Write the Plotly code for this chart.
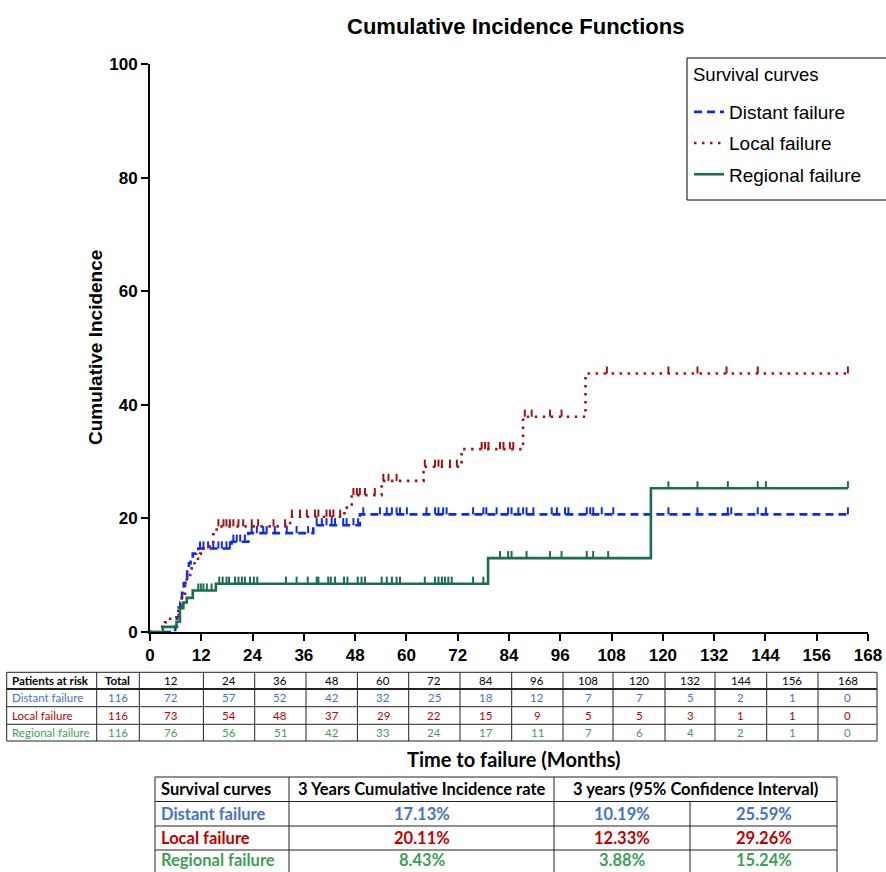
import numpy as np
import plotly.graph_objects as go

W, H = 886, 872

# ---------------- data ----------------
x_ticks = list(range(0, 169, 12))
y_ticks = [0, 20, 40, 60, 80, 100]

series_names = ["Distant failure", "Local failure", "Regional failure"]

distant_t = [0, 5.9, 6.3, 6.7, 7.1, 7.5, 7.9, 8.3, 8.7, 9.1, 9.5, 10.0, 10.8, 11.3,
             19.1, 23.0, 38.2, 49.1]
distant_v = [0, 0.9, 2.6, 4.3, 5.2, 6.9, 8.6, 9.5, 11.2, 12.1, 13.0, 13.8, 14.1, 14.7,
             15.9, 17.4, 18.8, 20.7]

local_t = [0, 2.3, 3.5, 4.7, 6.6, 7.4, 8.2, 8.6, 9.4, 10.1, 10.9, 11.7, 12.5, 14.0, 14.8,
           15.6, 32.8, 45.5, 47.2, 54.2, 64.0, 72.9, 87.3, 101.9]
local_v = [0, 0.9, 1.7, 2.6, 4.3, 6.0, 8.6, 9.5, 11.2, 12.1, 12.9, 13.8, 14.7, 15.5, 17.2,
           18.6, 20.3, 21.9, 24.1, 26.6, 29.1, 32.2, 37.9, 45.5]

regional_t = [0, 3.0, 6.2, 7.0, 7.8, 8.6, 10.0, 15.4, 79.1, 117.2]
regional_v = [0, 0.9, 1.8, 4.2, 5.2, 6.0, 7.3, 8.5, 13.0, 25.3]

end_month = 163.3

distant_censor = [11.7, 12.5, 13.6, 14.8, 16.0, 16.8, 17.9, 18.7, 19.5, 20.3, 21.1, 22.2,
                  23.8, 25.0, 26.5, 27.3, 29.2, 32.0, 34.3, 37.0, 39.0, 40.2, 41.3, 42.5,
                  43.3, 45.2, 46.0, 47.6, 48.7, 49.9, 53.8, 55.4, 56.6, 57.7, 58.5, 60.1,
                  64.7, 66.7, 67.5, 68.6, 69.4, 75.6, 78.0, 78.7, 81.1, 83.8, 84.6, 86.2,
                  87.3, 88.1, 89.7, 94.0, 95.2, 97.1, 97.9, 102.2, 103.0, 103.7, 105.7,
                  108.4, 121.3, 128.1, 135.2, 136.0, 142.2, 144.1, 163.3]
local_censor = [16.0, 17.2, 17.9, 18.7, 19.5, 20.7, 21.8, 23.8, 25.3, 28.9, 31.6, 33.2,
                35.1, 36.7, 38.6, 39.4, 41.3, 42.1, 42.9, 44.5, 47.6, 48.4, 49.1, 50.3,
                52.6, 54.6, 55.8, 57.7, 64.3, 66.7, 67.5, 68.3, 70.2, 71.8, 77.6, 78.4,
                79.2, 81.9, 82.7, 84.2, 85.0, 87.7, 89.3, 93.6, 96.3, 106.9, 121.3, 128.1,
                134.9, 142.2, 163.3]
regional_censor = [11.3, 11.9, 12.5, 13.3, 14.4, 16.2, 17.0, 17.9, 18.5, 19.9, 20.7, 21.5,
                   22.2, 23.4, 24.3, 25.1, 31.8, 34.3, 36.9, 39.0, 39.4, 41.7, 42.3, 43.3,
                   45.4, 46.2, 48.6, 49.5, 50.3, 54.2, 55.4, 56.6, 57.7, 58.5, 64.3, 66.7,
                   67.5, 68.3, 69.0, 69.8, 70.6, 75.6, 78.0, 81.9, 83.8, 84.6, 88.1, 93.6,
                   96.3, 102.2, 103.7, 107.2, 121.3, 128.1, 135.2, 142.2, 144.1, 163.3]

risk_times = ["Total", "12", "24", "36", "48", "60", "72", "84", "96", "108", "120",
              "132", "144", "156", "168"]
risk_distant = [116, 72, 57, 52, 42, 32, 25, 18, 12, 7, 7, 5, 2, 1, 0]
risk_local = [116, 73, 54, 48, 37, 29, 22, 15, 9, 5, 5, 3, 1, 1, 0]
risk_regional = [116, 76, 56, 51, 42, 33, 24, 17, 11, 7, 6, 4, 2, 1, 0]

cif_header = ["Survival curves", "3 Years Cumulative Incidence rate",
              "3 years (95% Confidence Interval)"]
cif_rate = ["17.13%", "20.11%", "8.43%"]
cif_low = ["10.19%", "12.33%", "3.88%"]
cif_high = ["25.59%", "29.26%", "15.24%"]

# ---------------- styles ----------------
line_cols = ["#0B2CF0", "#A31212", "#17704A"]
text_cols = ["#4472C4", "#C00000", "#3E9E55"]
dashes = ["8px,5px", "2.5px,5.5px", "solid"]
AX = "Liberation Sans"
CAL = "Lato"


def px_x(x):
    return x / W


def px_y(y):
    return 1 - y / H


fig = go.Figure()

curves = [(distant_t, distant_v, distant_censor),
          (local_t, local_v, local_censor),
          (regional_t, regional_v, regional_censor)]

for i, (t, v, cens) in enumerate(curves):
    tx = list(t) + [end_month]
    vy = list(v) + [v[-1]]
    fig.add_trace(go.Scatter(
        x=tx, y=vy, mode="lines", line_shape="hv", name=series_names[i],
        legendgroup=series_names[i],
        line=dict(color=line_cols[i], width=2.6, dash=dashes[i]),
        hoverinfo="skip"))
    ct = np.array(cens)
    idx = np.searchsorted(np.array(t), ct, side="right") - 1
    cy = np.array(v)[idx]
    fig.add_trace(go.Scatter(
        x=ct, y=cy, mode="markers", showlegend=False, legendgroup=series_names[i],
        marker=dict(size=2, color="rgba(0,0,0,0)"),
        error_y=dict(type="data", symmetric=False, array=[1.25] * len(ct),
                     arrayminus=[0] * len(ct), width=0, thickness=2,
                     color=line_cols[i]),
        hoverinfo="skip"))

annotations = []
shapes = []

# title
annotations.append(dict(x=px_x(515), y=px_y(27), xref="paper", yref="paper",
                        text="Cumulative Incidence Functions", showarrow=False,
                        font=dict(family=AX, size=22, color="black", weight="bold"),
                        xanchor="center", yanchor="middle"))
# y title
annotations.append(dict(x=px_x(96), y=px_y(348), xref="paper", yref="paper",
                        text="Cumulative Incidence", showarrow=False, textangle=-90,
                        font=dict(family=AX, size=19, color="black", weight="bold"),
                        xanchor="center", yanchor="middle"))
# x title
annotations.append(dict(x=px_x(514), y=px_y(759), xref="paper", yref="paper",
                        text="Time to failure (Months)", showarrow=False,
                        font=dict(family=CAL, size=20, color="black", weight="bold"),
                        xanchor="center", yanchor="middle"))

# legend box + title
shapes.append(dict(type="rect", xref="paper", yref="paper",
                   x0=px_x(687), x1=px_x(892), y0=px_y(58), y1=px_y(200),
                   line=dict(color="black", width=1), fillcolor="white", layer="below"))
annotations.append(dict(x=px_x(691), y=px_y(75), xref="paper", yref="paper",
                        text="Survival curves", showarrow=False, xanchor="left",
                        yanchor="middle", font=dict(family=AX, size=18.5, color="black")))

# ---------- at-risk table ----------
col_b = [6.7, 96.7, 139.3, 203.4, 254.7, 306, 357.4, 408.7, 460, 511.7, 563, 613,
         665, 715, 766.7, 818, 877]
row_b = [672.3, 689, 706.7, 724.3, 741]
for k, yb in enumerate(row_b):
    shapes.append(dict(type="line", xref="paper", yref="paper",
                       x0=px_x(col_b[0]), x1=px_x(col_b[-1]), y0=px_y(yb), y1=px_y(yb),
                       line=dict(color="#222", width=2 if k == 1 else 1)))
for xb in col_b:
    shapes.append(dict(type="line", xref="paper", yref="paper",
                       x0=px_x(xb), x1=px_x(xb), y0=px_y(row_b[0]), y1=px_y(row_b[-1]),
                       line=dict(color="#222", width=1)))

row_c = [(row_b[j] + row_b[j + 1]) / 2 for j in range(4)]
annotations.append(dict(x=px_x(col_b[0] + 3), y=px_y(row_c[0]), xref="paper", yref="paper",
                        text="Patients at risk", showarrow=False, xanchor="left",
                        yanchor="middle",
                        font=dict(family=CAL, size=11.5, color="black", weight="bold")))
for j, lab in enumerate(risk_times):
    cx = (col_b[j + 1] + col_b[j + 2]) / 2
    annotations.append(dict(x=px_x(cx), y=px_y(row_c[0]), xref="paper", yref="paper",
                            text=lab, showarrow=False, xanchor="center", yanchor="middle",
                            font=dict(family=CAL, size=11.5, color="black",
                                      weight="bold" if j == 0 else "normal")))
for r, (nm, vals) in enumerate(zip(series_names, [risk_distant, risk_local, risk_regional])):
    annotations.append(dict(x=px_x(col_b[0] + 3), y=px_y(row_c[r + 1]), xref="paper",
                            yref="paper", text=nm, showarrow=False, xanchor="left",
                            yanchor="middle",
                            font=dict(family=CAL, size=11.5, color=text_cols[r])))
    for j, val in enumerate(vals):
        cx = (col_b[j + 1] + col_b[j + 2]) / 2
        annotations.append(dict(x=px_x(cx), y=px_y(row_c[r + 1]), xref="paper",
                                yref="paper", text=str(val), showarrow=False,
                                xanchor="center", yanchor="middle",
                                font=dict(family=CAL, size=11.5, color=text_cols[r])))

# ---------- CIF table ----------
t_cols = [155, 289, 554, 690, 837]
t_rows = [777, 801.5, 826, 850, 873]
for yb in t_rows[:-1]:
    shapes.append(dict(type="line", xref="paper", yref="paper",
                       x0=px_x(t_cols[0]), x1=px_x(t_cols[-1]), y0=px_y(yb), y1=px_y(yb),
                       line=dict(color="#222", width=1)))
for k, xb in enumerate(t_cols):
    y0 = t_rows[1] if k == 3 else t_rows[0]
    shapes.append(dict(type="line", xref="paper", yref="paper",
                       x0=px_x(xb), x1=px_x(xb), y0=px_y(y0), y1=px_y(t_rows[-1]),
                       line=dict(color="#222", width=1)))
tc = [(t_rows[j] + t_rows[j + 1]) / 2 for j in range(3)] + [859.5]
hf = dict(family=CAL, size=16.5, color="black", weight="bold")
annotations.append(dict(x=px_x(t_cols[0] + 4), y=px_y(tc[0]), xref="paper", yref="paper",
                        text=cif_header[0], showarrow=False, xanchor="left",
                        yanchor="middle", font=hf))
annotations.append(dict(x=px_x((t_cols[1] + t_cols[2]) / 2), y=px_y(tc[0]), xref="paper",
                        yref="paper", text=cif_header[1], showarrow=False,
                        xanchor="center", yanchor="middle", font=hf))
annotations.append(dict(x=px_x((t_cols[2] + t_cols[4]) / 2), y=px_y(tc[0]), xref="paper",
                        yref="paper", text=cif_header[2], showarrow=False,
                        xanchor="center", yanchor="middle", font=hf))
for r in range(3):
    f = dict(family=CAL, size=16.5, color=text_cols[r], weight="bold")
    annotations.append(dict(x=px_x(t_cols[0] + 4), y=px_y(tc[r + 1]), xref="paper",
                            yref="paper", text=series_names[r], showarrow=False,
                            xanchor="left", yanchor="middle", font=f))
    for j, txt in enumerate([cif_rate[r], cif_low[r], cif_high[r]]):
        cx = (t_cols[j + 1] + t_cols[j + 2]) / 2
        annotations.append(dict(x=px_x(cx), y=px_y(tc[r + 1]), xref="paper",
                                yref="paper", text=txt, showarrow=False,
                                xanchor="center", yanchor="middle", font=f))

axis_font = dict(family=AX, size=17, color="black", weight="bold")

fig.update_layout(
    width=W, height=H, margin=dict(l=0, r=0, t=0, b=0),
    paper_bgcolor="white", plot_bgcolor="white",
    xaxis=dict(domain=[px_x(150), px_x(868)], range=[0, 168], tickvals=x_ticks,
               showgrid=False, zeroline=False, showline=True, linecolor="black",
               linewidth=2, ticks="outside", ticklen=7, tickwidth=2, tickcolor="black",
               tickfont=axis_font, anchor="y", automargin=False),
    yaxis=dict(domain=[px_y(632), px_y(64)], range=[0, 100], tickvals=y_ticks,
               showgrid=False, zeroline=False, showline=True, linecolor="black",
               linewidth=2, ticks="outside", ticklen=7, tickwidth=2, tickcolor="black",
               tickfont=axis_font, anchor="x", automargin=False),
    legend=dict(x=px_x(689), y=px_y(93), xanchor="left", yanchor="top",
                borderwidth=0, bgcolor="rgba(0,0,0,0)",
                font=dict(family=AX, size=19, color="black"),
                tracegroupgap=3.5, itemwidth=30, traceorder="grouped"),
    annotations=annotations, shapes=shapes,
)

fig.write_html(
    "out.html",
    config={"displayModeBar": False},
    post_script="document.body.style.margin='0';document.body.style.padding='0';"
                "document.body.style.overflow='hidden';"
                "document.documentElement.style.overflow='hidden';",
)
